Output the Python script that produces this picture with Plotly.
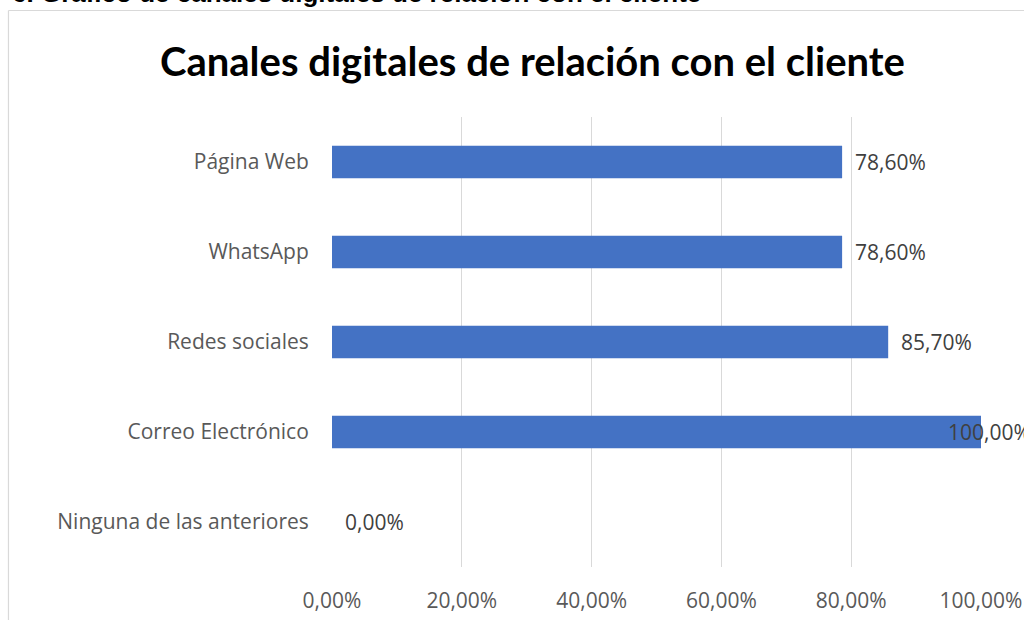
import plotly.graph_objects as go

categories = ["Ninguna de las anteriores", "Correo Electrónico", "Redes sociales", "WhatsApp", "Página Web"]
values = [0.0, 100.0, 85.7, 78.6, 78.6]
tick_vals = [0, 20, 40, 60, 80, 100]
tick_text = ["0,00%", "20,00%", "40,00%", "60,00%", "80,00%", "100,00%"]
title_text = "Canales digitales de relación con el cliente"
caption_text = "6. Gráfico de canales digitales de relación con el cliente"

def fmt(v):
    return f"{v:.2f}".replace(".", ",") + "%"

FONT = "Open Sans"
fig = go.Figure()
fig.add_trace(go.Bar(
    y=categories, x=values, orientation="h",
    marker=dict(color="#4472C4", line=dict(width=0)),
    width=0.36, hoverinfo="skip",
))

vmax = max(values)
for c, v in zip(categories, values):
    at_end = v >= vmax
    fig.add_annotation(
        x=v, y=c, xref="x", yref="y", text=fmt(v), showarrow=False,
        xanchor="left", xshift=(-35 if at_end else 11),
        font=dict(family=FONT, size=21, color="#404040"),
    )

fig.add_annotation(
    x=0.3097, y=1.124, xref="paper", yref="paper", text=title_text,
    showarrow=False, xanchor="center", yanchor="middle",
    font=dict(family="Lato", size=40, color="#000000", weight="bold"),
)
fig.add_annotation(
    x=-0.4985, y=1.2756, xref="paper", yref="paper", text=caption_text,
    showarrow=False, xanchor="left", yanchor="middle", xshift=2,
    font=dict(family="Liberation Sans", size=26, color="#000000", weight="bold"),
)

# outer chart frame
fig.add_shape(type="line", xref="paper", yref="paper", x0=-0.4985, x1=-0.4985,
              y0=-0.2, y1=1.2367, line=dict(color="#D9D9D9", width=1.2))
fig.add_shape(type="line", xref="paper", yref="paper", x0=-0.4985, x1=1.2,
              y0=1.2367, y1=1.2367, line=dict(color="#D9D9D9", width=1.2))

fig.update_layout(
    width=1024, height=620,
    margin=dict(l=332, r=43, t=117, b=53, autoexpand=False),
    paper_bgcolor="white", plot_bgcolor="white",
    showlegend=False,
    xaxis=dict(range=[0, 100], tickvals=tick_vals, ticktext=tick_text,
               automargin=False,
               showgrid=True, gridcolor="#D9D9D9", gridwidth=1.2,
               zeroline=False, showline=False, ticks="outside", ticklen=15,
               tickcolor="rgba(0,0,0,0)",
               tickfont=dict(family=FONT, size=21, color="#595959")),
    yaxis=dict(categoryorder="array", categoryarray=categories,
               automargin=False,
               showgrid=False, zeroline=False, showline=False, ticks="outside",
               ticklen=18, tickcolor="rgba(0,0,0,0)",
               tickfont=dict(family=FONT, size=21, color="#595959")),
)

fig.write_html("out.html")
